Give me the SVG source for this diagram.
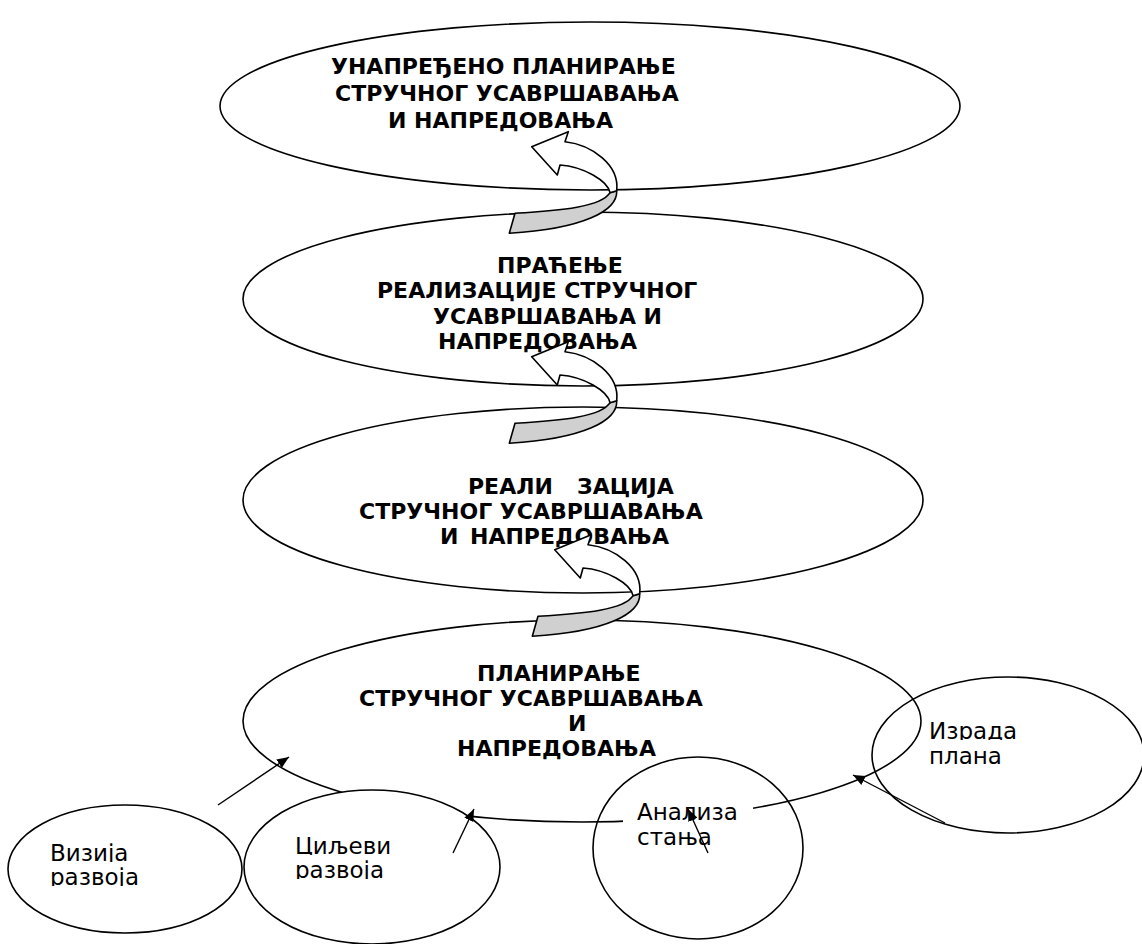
<svg xmlns="http://www.w3.org/2000/svg" width="1142" height="944" viewBox="0 0 1142 944">
<style>
.sh{stroke:#000;stroke-width:1.6;}
.wf{fill:#fff;}
.nf{fill:none;}
.b{font-family:"DejaVu Sans","Liberation Sans",sans-serif;font-weight:bold;font-size:22px;fill:#000;}
.r{font-family:"DejaVu Sans","Liberation Sans",sans-serif;font-size:23px;fill:#000;}
.cn{stroke:#000;stroke-width:1.4;fill:none;marker-end:url(#ah);}
.cw{fill:#fff;stroke:#000;stroke-width:1.6;stroke-linejoin:round;}
.cg{fill:#d0d0d0;stroke:#000;stroke-width:1.6;stroke-linejoin:round;}
</style>
<defs>
<marker id="ah" markerUnits="userSpaceOnUse" markerWidth="13" markerHeight="10" refX="12" refY="5" orient="auto"><path d="M0,0 L12,5 L0,10 Z" fill="#000"/></marker>
<g id="curl">
<path class="cg" d="M85,44 C86,64 52,82 -22.4,86.6 L-16.7,66.6 C30,64 70,60 78.3,46 Z"/>
<path class="cw" d="M0,0 L36.6,-15 L33.3,-5 C60,-2 88,18 85,44 L78.3,46 C76,34 52,20 28.3,18.3 L25.6,28.3 Z"/>
</g>
<clipPath id="cV1"><rect x="40" y="830" width="130" height="32"/></clipPath>
<clipPath id="cV2"><rect x="40" y="862" width="130" height="24"/></clipPath>
<clipPath id="cC1"><rect x="285" y="823" width="130" height="32"/></clipPath>
<clipPath id="cC2"><rect x="285" y="855" width="130" height="24"/></clipPath>
<clipPath id="cA1"><rect x="630" y="790" width="130" height="31"/></clipPath>
<clipPath id="cA2"><rect x="630" y="821" width="130" height="25"/></clipPath>
<clipPath id="cI1"><rect x="920" y="708" width="130" height="32"/></clipPath>
<clipPath id="cI2"><rect x="920" y="740" width="130" height="25"/></clipPath>
</defs>

<g id="node-unapredjeno">
<ellipse class="sh wf" cx="590" cy="106" rx="370" ry="84"/>
<text class="b" x="331" y="74">УНАПРЕЂЕНО ПЛАНИРАЊЕ</text>
<text class="b" x="335" y="101">СТРУЧНОГ УСАВРШАВАЊА</text>
<text class="b" x="388" y="127.5">И НАПРЕДОВАЊА</text>
</g>

<g id="node-pracenje">
<ellipse class="sh wf" cx="583" cy="299" rx="340" ry="87"/>
<text class="b" x="497" y="273">ПРАЋЕЊЕ</text>
<text class="b" x="377" y="298">РЕАЛИЗАЦИЈЕ СТРУЧНОГ</text>
<text class="b" x="433" y="324">УСАВРШАВАЊА И</text>
<text class="b" x="438" y="349">НАПРЕДОВАЊА</text>
</g>

<g id="node-realizacija">
<ellipse class="sh wf" cx="583" cy="500" rx="340" ry="93"/>
<text class="b" y="494"><tspan x="468">РЕАЛИ</tspan><tspan x="577">ЗАЦИЈА</tspan></text>
<text class="b" x="359" y="519">СТРУЧНОГ УСАВРШАВАЊА</text>
<text class="b" y="544"><tspan x="440">И</tspan><tspan x="470">НАПРЕДОВАЊА</tspan></text>
</g>

<g id="node-planiranje">
<ellipse class="sh wf" cx="582" cy="721" rx="339" ry="101"/>
<text class="b" x="477" y="681">ПЛАНИРАЊЕ</text>
<text class="b" x="359" y="706">СТРУЧНОГ УСАВРШАВАЊА</text>
<text class="b" x="568" y="731">И</text>
<text class="b" x="457" y="756">НАПРЕДОВАЊА</text>
</g>

<g id="node-izrada">
<ellipse class="sh nf" cx="1008" cy="755" rx="136" ry="78"/>
<text class="r" x="929" y="739" clip-path="url(#cI1)">Израда</text>
<text class="r" x="929" y="764" clip-path="url(#cI2)">плана</text>
</g>

<g id="node-analiza">
<ellipse class="sh nf" cx="698" cy="848" rx="105" ry="91"/>
<rect x="623" y="798" width="130" height="52" fill="#fff"/>
<text class="r" x="637" y="820" clip-path="url(#cA1)">Анализа</text>
<text class="r" x="637" y="845" clip-path="url(#cA2)">стања</text>
</g>

<g id="node-vizija">
<ellipse class="sh wf" cx="125" cy="869" rx="117" ry="64"/>
<text class="r" x="50" y="861" clip-path="url(#cV1)">Визија</text>
<text class="r" x="50" y="885" clip-path="url(#cV2)">развоја</text>
</g>

<g id="node-ciljevi">
<ellipse class="sh wf" cx="372" cy="867" rx="128" ry="77"/>
<text class="r" x="295" y="854" clip-path="url(#cC1)">Циљеви</text>
<text class="r" x="295" y="878" clip-path="url(#cC2)">развоја</text>
</g>

<g id="connectors">
<use href="#curl" transform="translate(531.7,146.7)"/>
<use href="#curl" transform="translate(531.7,356.7)"/>
<use href="#curl" transform="translate(554.7,549.7)"/>
<line class="cn" x1="218" y1="805" x2="289" y2="757"/>
<line class="cn" x1="453" y1="853" x2="474" y2="809"/>
<line class="cn" x1="708" y1="853" x2="688" y2="809"/>
<line class="cn" x1="945" y1="823" x2="853" y2="775"/>
</g>
</svg>
